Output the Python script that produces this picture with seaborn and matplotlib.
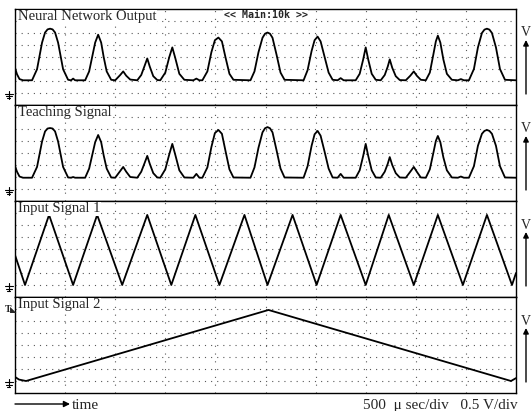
import numpy as np
import matplotlib
matplotlib.use("Agg")
import matplotlib.pyplot as plt
from matplotlib.lines import Line2D
import seaborn as sns

sns.set_style("white")
plt.rcParams["font.family"] = ["Liberation Serif", "DejaVu Sans"]

# time base in micro seconds (500 us/div), voltages in V (0.5 V/div)
peak_time = [0, 20, 45, 80,
             170, 220, 270, 300, 325, 350, 375, 400, 430, 480, 530,
             560, 580, 600,
             700, 740, 770, 800, 830, 860, 885, 915, 960,
             1000, 1050, 1080, 1110, 1150,
             1220, 1260, 1295, 1320, 1345, 1380, 1420,
             1450, 1500, 1540, 1570, 1600, 1640, 1690,
             1780, 1810, 1840,
             1870, 1920, 1960, 1995, 2030, 2065, 2100, 2140, 2180,
             2350, 2390, 2430, 2470, 2495, 2520, 2545, 2570, 2610, 2650, 2690,
             2880, 2920, 2960, 2990, 3020, 3050, 3090, 3130, 3170,
             3220, 3250, 3280,
             3400, 3440, 3475, 3500, 3525, 3560, 3600,
             3650, 3690, 3720, 3740, 3765, 3800, 3840,
             3900, 3945, 3980, 4010, 4050,
             4100, 4140, 4175, 4200, 4220, 4245, 4275, 4310, 4360,
             4420, 4450, 4480,
             4530, 4580, 4620, 4660, 4685, 4710, 4735, 4760, 4800, 4840, 4890,
             5000]

nn_output = [1.05, 0.78, 0.58, 0.53,
             0.53, 0.99, 2.10, 2.52, 2.65, 2.68, 2.65, 2.52, 2.10, 0.99, 0.55,
             0.53, 0.60, 0.53,
             0.53, 0.90, 1.50, 2.10, 2.43, 2.10, 1.50, 0.90, 0.55,
             0.53, 0.75, 0.90, 0.72, 0.56,
             0.53, 0.75, 1.15, 1.44, 1.10, 0.70, 0.54,
             0.53, 0.85, 1.50, 1.90, 1.45, 0.80, 0.55,
             0.53, 0.60, 0.53,
             0.53, 0.90, 1.70, 2.20, 2.31, 2.15, 1.50, 0.80, 0.55,
             0.53, 0.90, 1.70, 2.30, 2.47, 2.52, 2.47, 2.30, 1.60, 0.85, 0.55,
             0.53, 0.95, 1.75, 2.20, 2.35, 2.15, 1.50, 0.85, 0.55,
             0.53, 0.62, 0.53,
             0.53, 0.80, 1.40, 1.90, 1.40, 0.80, 0.55,
             0.53, 0.75, 1.10, 1.40, 1.05, 0.70, 0.54,
             0.53, 0.72, 0.90, 0.72, 0.55,
             0.53, 0.85, 1.60, 2.15, 2.39, 2.10, 1.40, 0.80, 0.55,
             0.53, 0.58, 0.53,
             0.53, 1.00, 1.90, 2.50, 2.64, 2.68, 2.64, 2.50, 1.90, 1.00, 0.55,
             0.53]

teaching = [0.96, 0.72, 0.52, 0.47,
            0.47, 0.92, 1.98, 2.40, 2.52, 2.54, 2.52, 2.40, 1.98, 0.92, 0.48,
            0.47, 0.50, 0.47,
            0.47, 0.85, 1.40, 1.95, 2.25, 1.95, 1.40, 0.85, 0.48,
            0.47, 0.75, 0.92, 0.72, 0.50,
            0.47, 0.72, 1.10, 1.38, 1.05, 0.66, 0.48,
            0.47, 0.82, 1.45, 1.88, 1.42, 0.78, 0.48,
            0.47, 0.63, 0.47,
            0.47, 0.90, 1.75, 2.33, 2.46, 2.30, 1.60, 0.82, 0.48,
            0.47, 0.90, 1.72, 2.36, 2.53, 2.58, 2.53, 2.36, 1.62, 0.85, 0.48,
            0.47, 0.95, 1.80, 2.28, 2.42, 2.22, 1.55, 0.85, 0.48,
            0.47, 0.63, 0.47,
            0.47, 0.78, 1.38, 1.88, 1.38, 0.78, 0.48,
            0.47, 0.72, 1.05, 1.33, 1.00, 0.66, 0.48,
            0.47, 0.72, 0.92, 0.72, 0.48,
            0.47, 0.82, 1.50, 2.00, 2.21, 1.95, 1.32, 0.78, 0.48,
            0.47, 0.52, 0.47,
            0.47, 0.95, 1.80, 2.30, 2.42, 2.46, 2.42, 2.30, 1.80, 0.95, 0.48,
            0.47]

input1_time = [0, 100, 340, 580, 820, 1070, 1320, 1560, 1800, 2040, 2290, 2520,
               2770, 3010, 3250, 3500, 3730, 3980, 4220, 4470, 4710, 4960, 5000]
input1 = [1.25, 0.0, 2.92, 0.0, 2.92, 0.0, 2.92, 0.0, 2.92, 0.0, 2.92, 0.0,
          2.92, 0.0, 2.92, 0.0, 2.92, 0.0, 2.92, 0.0, 2.92, 0.0, 0.50]

input2_time = [0, 40, 110, 2530, 4950, 5000]
input2 = [0.17, 0.06, 0.0, 2.96, 0.0, 0.12]

names = ["Neural Network Output", "Teaching Signal", "Input Signal 1", "Input Signal 2"]
series = [(peak_time, nn_output), (peak_time, teaching),
          (input1_time, input1), (input2_time, input2)]

W, H = 531, 411
fig = plt.figure(figsize=(W / 100, H / 100), dpi=100)


def fx(px):
    return px / W


def fy(py):
    return 1 - py / H


for i, ((t, v), name) in enumerate(zip(series, names)):
    top = 9 + 96 * i
    ax = fig.add_axes([fx(15), fy(top + 96), (516 - 15) / W, 96 / H])
    sns.lineplot(x=t, y=v, ax=ax, color="black", lw=1.3, estimator=None)
    ax.set_xlim(0, 5000)
    ax.set_ylim(-0.5, 3.5)
    ax.set_xticks(np.arange(500, 5000, 500))
    ax.set_yticks(np.arange(0, 3.01, 0.5))
    ax.set_axisbelow(True)
    ax.grid(axis="x", linestyle=(0, (1, 6)), color="0.35", lw=0.8)
    ax.grid(axis="y", linestyle=(0, (1, 4.5)), color="0.35", lw=0.8)
    ax.tick_params(length=0, labelbottom=False, labelleft=False)
    ax.set_xlabel("")
    ax.set_ylabel("")
    for s in ax.spines.values():
        s.set_color("black")
        s.set_linewidth(1.0)
    ax.text(0.005, 0.985, name, transform=ax.transAxes, va="top", ha="left",
            fontsize=10.5, bbox=dict(fc="white", ec="none", pad=0.5))

    # V axis arrow on the right
    fig.text(fx(525.5), fy(33 + 96 * i), "V", ha="center", va="center", fontsize=10)
    ax.annotate("", xy=(fx(526), fy(40 + 96 * i)), xytext=(fx(526), fy(94 + 96 * i)),
                xycoords="figure fraction", textcoords="figure fraction",
                arrowprops=dict(arrowstyle="-|>", color="black", lw=1.0,
                                mutation_scale=8, shrinkA=0, shrinkB=0))

    # ground marker on the left
    g = top + 96 - 12
    fig.add_artist(Line2D([fx(8.5), fx(8.5)], [fy(g - 2), fy(g + 6)], color="black", lw=0.8))
    for dy, a, b in [(1, 4.5, 12.5), (3.5, 5.5, 11.5), (5.5, 7, 10)]:
        fig.add_artist(Line2D([fx(a), fx(b)], [fy(g + dy), fy(g + dy)], color="black", lw=0.8))

    if i == 0:
        ax.text(0.5, 0.935, "<< Main:10k >>", transform=ax.transAxes, ha="center",
                va="center", family="DejaVu Sans Mono", fontsize=7.2, fontweight="bold",
                bbox=dict(fc="white", ec="none", pad=0.3))

# trigger marker
fig.text(fx(5), fy(309), "T", ha="left", va="center", fontsize=7, fontweight="bold")
fig.text(fx(10), fy(310), "\u25e3", ha="left", va="center", fontsize=6,
         family="DejaVu Sans")

# time arrow and scale text
fig.axes[0].annotate("", xy=(fx(70), fy(404)), xytext=(fx(15), fy(404)),
                     xycoords="figure fraction", textcoords="figure fraction",
                     arrowprops=dict(arrowstyle="-|>", color="black", lw=1.0,
                                     mutation_scale=9, shrinkA=0, shrinkB=0))
fig.text(fx(72), fy(405), "time", ha="left", va="center", fontsize=11)
fig.text(fx(518), fy(405), "500  \u03bc sec/div   0.5 V/div", ha="right",
         va="center", fontsize=11)

fig.savefig("out.png", dpi=100)
